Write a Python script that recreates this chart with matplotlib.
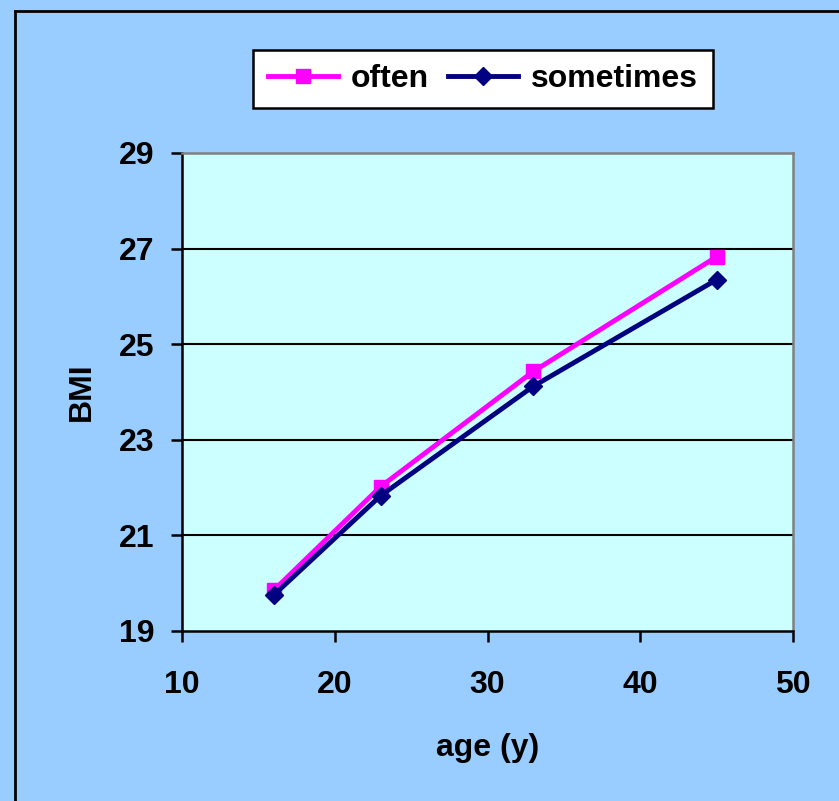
import matplotlib
matplotlib.use("Agg")
import matplotlib.pyplot as plt
from matplotlib.lines import Line2D

age = [16, 23, 33, 45]
often = [19.85, 22.02, 24.43, 26.83]
sometimes = [19.75, 21.83, 24.12, 26.35]
y_ticks = [19, 21, 23, 25, 27, 29]
x_ticks = [10, 20, 30, 40, 50]

plt.rcParams['font.family'] = ['Liberation Sans', 'DejaVu Sans']
plt.rcParams['font.weight'] = 'bold'

W, H = 839, 801
fig = plt.figure(figsize=(W/100, H/100), dpi=100)
fig.patch.set_facecolor('#99CCFF')

# outer border (left and top visible)
fig.add_artist(Line2D([15/W, 15/W], [0, 1 - 11/H], color='black', lw=2, transform=fig.transFigure))
fig.add_artist(Line2D([15/W, 1], [1 - 11/H, 1 - 11/H], color='black', lw=2, transform=fig.transFigure))

ax = fig.add_axes([182/W, 1 - 631/H, (793-182)/W, (631-153)/H])
ax.set_facecolor('#CCFFFF')
ax.set_xlim(10, 50)
ax.set_ylim(19, 29)
ax.set_xticks(x_ticks)
ax.set_yticks(y_ticks)
for y in y_ticks[1:-1]:
    ax.axhline(y, color='black', lw=1.5, zorder=1)

ax.plot(age, often, color='#FF00FF', lw=3.5, marker='s', markersize=10.5,
        label='often', zorder=3)
ax.plot(age, sometimes, color='#000080', lw=3.5, marker='D', markersize=9,
        label='sometimes', zorder=4)

for s in ['left', 'bottom']:
    ax.spines[s].set_color('black')
    ax.spines[s].set_linewidth(1.8)
for s in ['top', 'right']:
    ax.spines[s].set_color('#808080')
    ax.spines[s].set_linewidth(1.8)

fs = 23
ax.tick_params(axis='both', direction='out', length=8, width=1.8, colors='black',
               labelsize=fs)
ax.tick_params(axis='y', pad=12)
ax.tick_params(axis='x', pad=20)
for lab in ax.get_xticklabels() + ax.get_yticklabels():
    lab.set_fontweight('bold')

ax.set_xlabel('age (y)', fontsize=fs, fontweight='bold', labelpad=24)
ax.set_ylabel('BMI', fontsize=fs, fontweight='bold', labelpad=16)

leg = fig.legend(loc='center', bbox_to_anchor=(483/W, 1 - 79/H), ncol=2,
                 fontsize=fs, frameon=True, fancybox=False, edgecolor='black',
                 facecolor='white', framealpha=1,
                 handlelength=2.2, columnspacing=0.6, handletextpad=0.4,
                 borderpad=0.45)
leg.get_frame().set_linewidth(1.8)
for t in leg.get_texts():
    t.set_fontweight('bold')

fig.savefig('out.png', dpi=100, facecolor=fig.get_facecolor())
